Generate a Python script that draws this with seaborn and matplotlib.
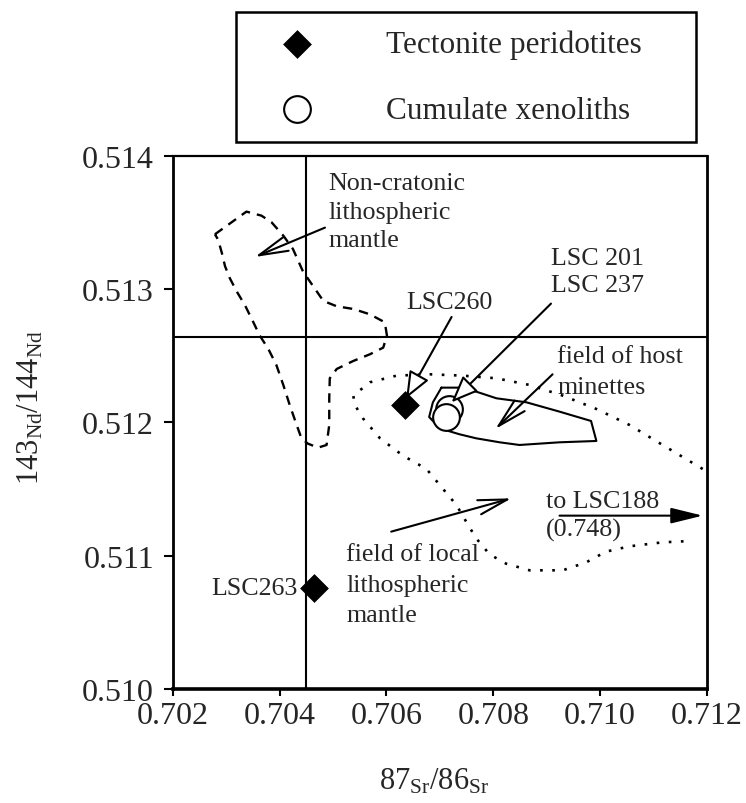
import numpy as np
import pandas as pd
import matplotlib
matplotlib.use("Agg")
import matplotlib.pyplot as plt
import seaborn as sns

# ---------------------------------------------------------------- data
# reference values: Bulk Earth 87Sr/86Sr and CHUR 143Nd/144Nd
bulk_earth_sr = 0.7045
chur_nd = 0.51264

# samples
tectonite_sr = [0.70634, 0.70465]
tectonite_nd = [0.51213, 0.51076]
tectonite_names = ["LSC260", "LSC263"]

cumulate_sr = [0.70717, 0.70712]
cumulate_nd = [0.51210, 0.51204]
cumulate_names = ["LSC 201", "LSC 237"]

# field outlines
noncratonic_sr = [0.70279, 0.70338, 0.70366, 0.70385, 0.70407, 0.70425, 0.70444, 0.70463,
                  0.70482, 0.70507, 0.70538, 0.70569, 0.70597, 0.70601, 0.70594, 0.70569,
                  0.70538, 0.70507, 0.70494, 0.70493, 0.70493, 0.70488, 0.70472, 0.70453,
                  0.70441, 0.70432, 0.70419, 0.70407, 0.70394, 0.70379, 0.70363, 0.70351,
                  0.70335, 0.70320, 0.70307, 0.70298, 0.70292, 0.70285, 0.70279]
noncratonic_nd = [0.51341, 0.51358, 0.51355, 0.51350, 0.51340, 0.51330, 0.51313, 0.51302,
                  0.51291, 0.51287, 0.51285, 0.51281, 0.51275, 0.51265, 0.51256, 0.51251,
                  0.51246, 0.51240, 0.51233, 0.51218, 0.51198, 0.51183, 0.51181, 0.51184,
                  0.51188, 0.51198, 0.51213, 0.51228, 0.51243, 0.51255, 0.51265, 0.51275,
                  0.51288, 0.51298, 0.51308, 0.51317, 0.51327, 0.51337, 0.51341]

local_sr = [0.71192, 0.71117, 0.71055, 0.70993, 0.70930, 0.70868, 0.70806, 0.70743,
            0.70681, 0.70619, 0.70569, 0.70538, 0.70541, 0.70556, 0.70588, 0.70631,
            0.70675, 0.70706, 0.70731, 0.70750, 0.70768, 0.70793, 0.70824, 0.70868,
            0.70930, 0.70974, 0.71011, 0.71055, 0.71117, 0.71170]
local_nd = [0.51165, 0.51183, 0.51198, 0.51210, 0.51220, 0.51228, 0.51233, 0.51235,
            0.51236, 0.51235, 0.51230, 0.51220, 0.51213, 0.51203, 0.51188, 0.51175,
            0.51165, 0.51150, 0.51138, 0.51125, 0.51113, 0.51101, 0.51094, 0.51089,
            0.51089, 0.51095, 0.51103, 0.51107, 0.51110, 0.51111]

minette_sr = [0.70703, 0.70737, 0.70768, 0.70806, 0.70862, 0.70924, 0.70983, 0.70993,
              0.70924, 0.70849, 0.70812, 0.70768, 0.70737, 0.70712, 0.70694, 0.70680,
              0.70687, 0.70703]
minette_nd = [0.51226, 0.51226, 0.51223, 0.51218, 0.51215, 0.51208, 0.51201, 0.51186,
              0.51185, 0.51183, 0.51185, 0.51188, 0.51191, 0.51194, 0.51198, 0.51204,
              0.51215, 0.51226]

x_ticks = [0.702, 0.704, 0.706, 0.708, 0.710, 0.712]
y_ticks = [0.510, 0.511, 0.512, 0.513, 0.514]

# ---------------------------------------------------------------- style
sns.set_style("ticks")
plt.rcParams["font.family"] = ["Liberation Serif", "DejaVu Serif"]
plt.rcParams["mathtext.fontset"] = "custom"
plt.rcParams["mathtext.rm"] = "Liberation Serif"
plt.rcParams["mathtext.it"] = "Liberation Serif:italic"
plt.rcParams["mathtext.bf"] = "Liberation Serif:bold"

fig = plt.figure(figsize=(7.46, 8.04), dpi=100)
ax = fig.add_axes([0.2315, 0.1418, 0.7162, 0.6634])

# ---------------------------------------------------------------- fields
def outline(sr, nd, **kw):
    df = pd.DataFrame({"sr": sr, "nd": nd, "order": np.arange(len(sr))})
    sns.lineplot(data=df, x="sr", y="nd", sort=False, estimator=None,
                 color="black", ax=ax, legend=False, **kw)

outline(noncratonic_sr, noncratonic_nd, lw=1.7, linestyle=(0, (4, 3)), zorder=2)
outline(local_sr, local_nd, lw=1.9, linestyle=(0, (1, 3.6)), zorder=2)
outline(minette_sr, minette_nd, lw=1.5, linestyle="-", zorder=2)

# Bulk Earth / CHUR reference lines
ax.axvline(bulk_earth_sr, color="black", lw=1.5, zorder=1)
ax.axhline(chur_nd, color="black", lw=1.5, zorder=1)

# ---------------------------------------------------------------- samples
tect = pd.DataFrame({"sr": tectonite_sr, "nd": tectonite_nd, "sample": tectonite_names})
cumu = pd.DataFrame({"sr": cumulate_sr, "nd": cumulate_nd, "sample": cumulate_names})

sns.scatterplot(data=tect, x="sr", y="nd", marker="D", s=200, color="black",
                edgecolor="black", linewidth=0.5, label="Tectonite peridotites",
                ax=ax, zorder=4)
sns.scatterplot(data=cumu, x="sr", y="nd", marker="o", s=370, facecolor="white",
                edgecolor="black", linewidth=1.5, label="Cumulate xenoliths",
                ax=ax, zorder=4)

# ---------------------------------------------------------------- labels & arrows
fs = 18.7
v_arrow = dict(arrowstyle="->,head_length=1.4,head_width=0.35", color="black",
               lw=1.5, mutation_scale=15, shrinkA=0, shrinkB=0)
hollow_arrow = dict(arrowstyle="-|>,head_length=1.1,head_width=0.45", fc="white",
                    ec="black", lw=1.5, mutation_scale=15, shrinkA=0, shrinkB=0)
solid_arrow = dict(arrowstyle="-|>,head_length=1.3,head_width=0.32", fc="black",
                   ec="black", lw=1.5, mutation_scale=15, shrinkA=0, shrinkB=0)

ax.text(0.70491, 0.51358, "Non-cratonic\nlithospheric\nmantle", fontsize=fs,
        ha="left", va="center", linespacing=1.4)
ax.annotate("", xy=(0.70354, 0.51324), xytext=(0.70485, 0.51346),
            arrowprops=v_arrow, zorder=5)

ax.text(0.70718, 0.51290, tectonite_names[0], fontsize=fs, ha="center", va="center")
ax.annotate("", xy=(tectonite_sr[0] + 0.00003, tectonite_nd[0] + 0.00005),
            xytext=(0.70722, 0.51279), arrowprops=hollow_arrow, zorder=5)

ax.text(0.70908, 0.51313, "\n".join(cumulate_names), fontsize=fs,
        ha="left", va="center", linespacing=1.28)
ax.annotate("", xy=(0.70722, 0.51215), xytext=(0.70908, 0.51289),
            arrowprops=hollow_arrow, zorder=5)

ax.text(0.70920, 0.51238, "field of host\nminettes", fontsize=fs,
        ha="left", va="center", linespacing=1.5)
ax.annotate("", xy=(0.70804, 0.51195), xytext=(0.70911, 0.51236),
            arrowprops=v_arrow, zorder=5)

ax.text(0.70525, 0.51078, "field of local\nlithospheric\nmantle", fontsize=fs,
        ha="left", va="center", linespacing=1.5)
ax.annotate("", xy=(0.70834, 0.51143), xytext=(0.70609, 0.51118),
            arrowprops=v_arrow, zorder=5)

ax.text(0.70899, 0.51130, "to LSC188\n(0.748)", fontsize=fs,
        ha="left", va="center", linespacing=1.35)
ax.annotate("", xy=(0.71192, 0.51130), xytext=(0.70924, 0.51130),
            arrowprops=solid_arrow, zorder=5)

ax.text(0.70434, tectonite_nd[1], tectonite_names[1], fontsize=fs,
        ha="right", va="center")

# ---------------------------------------------------------------- axes
ax.set_xlim(0.702, 0.712)
ax.set_ylim(0.510, 0.514)
ax.set_xticks(x_ticks)
ax.set_yticks(y_ticks)
ax.set_xticklabels([f"{v:.3f}" for v in x_ticks])
ax.set_yticklabels([f"{v:.3f}" for v in y_ticks])
ax.tick_params(axis="both", direction="out", width=1.5, labelsize=23,
               top=False, right=False, color="black")
ax.tick_params(axis="y", length=6.5, pad=7)
ax.tick_params(axis="x", length=5, pad=3.5)

for side in ["left", "bottom", "top", "right"]:
    ax.spines[side].set_visible(True)
    ax.spines[side].set_color("black")
ax.spines["left"].set_linewidth(2.0)
ax.spines["bottom"].set_linewidth(2.6)
ax.spines["top"].set_linewidth(1.6)
ax.spines["right"].set_linewidth(2.0)

ax.set_xlabel(r"87$_{\mathrm{Sr}}$/86$_{\mathrm{Sr}}$", fontsize=22, va="center")
ax.set_ylabel(r"143$_{\mathrm{Nd}}$/144$_{\mathrm{Nd}}$", fontsize=22, va="center")
ax.xaxis.set_label_coords(0.489, -0.1725)
ax.yaxis.set_label_coords(-0.265, 0.53)

# ---------------------------------------------------------------- legend
handles, labels = ax.get_legend_handles_labels()
if ax.get_legend() is not None:
    ax.get_legend().remove()
leg_left, leg_top, leg_w, leg_h = 0.3164, 0.9842, 0.6166, 0.1667
leg = fig.legend(handles, labels, loc="upper left",
                 bbox_to_anchor=(leg_left, leg_top - leg_h, leg_w, leg_h),
                 bbox_transform=fig.transFigure, mode="expand",
                 frameon=True, fancybox=False, framealpha=1, edgecolor="black",
                 borderpad=0.57, labelspacing=1.17, handlelength=2.77,
                 handletextpad=1.46, borderaxespad=0, prop={"size": 22.5})
leg.get_frame().set_linewidth(1.8)

fig.savefig("out.png", dpi=100)
